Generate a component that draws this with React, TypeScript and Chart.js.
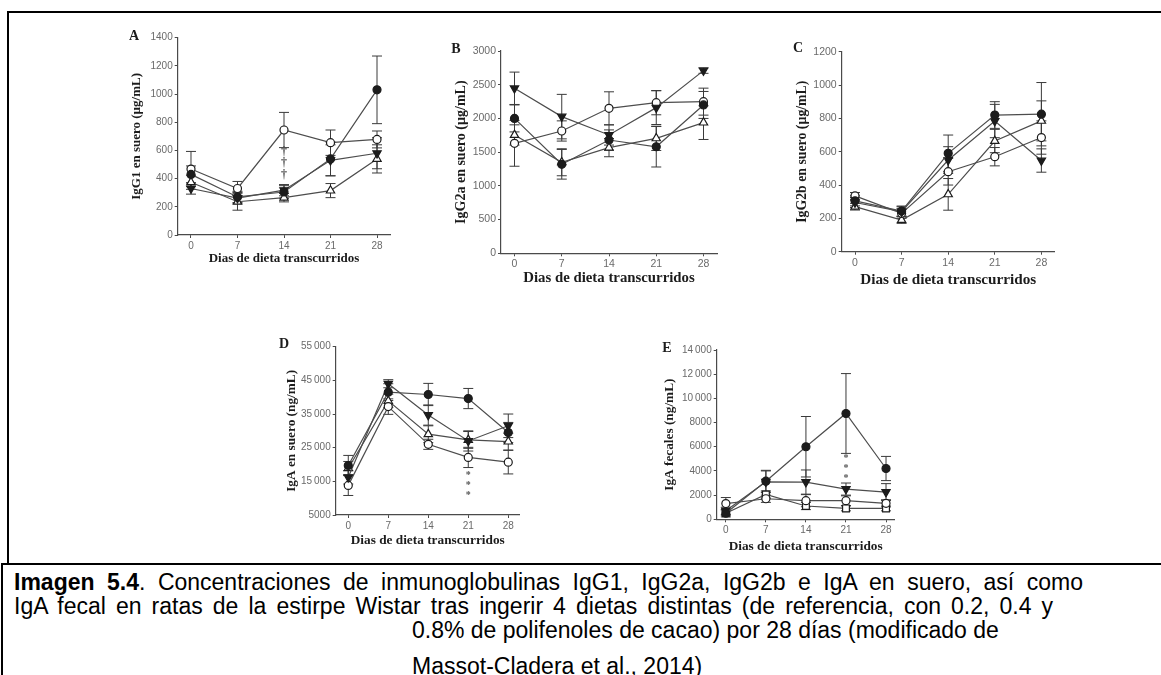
import React, { useEffect, useRef } from "react";
import { Chart, registerables } from "chart.js";

Chart.register(...registerables);

// Sampling days shared by every panel
const days = [0, 7, 14, 21, 28];
const dayLabels = ["0", "7", "14", "21", "28"];

// Diet groups
const groupNames = ["Referencia", "0.2% polifenoles", "0.4% polifenoles", "0.8% polifenoles"];

// A · IgG1 en suero (µg/mL): mean and SEM per group
const igg1Ref = [430, 270, 305, 540, 1030];
const igg1RefErr = [60, 40, 45, 120, 240];
const igg1P02 = [330, 262, 318, 530, 580];
const igg1P02Err = [40, 40, 40, 110, 110];
const igg1P04 = [468, 330, 745, 655, 678];
const igg1P04Err = [125, 50, 125, 90, 60];
const igg1P08 = [374, 236, 265, 315, 540];
const igg1P08Err = [50, 60, 30, 50, 100];
const igg1Ticks = [0, 200, 400, 600, 800, 1000, 1200, 1400];
const igg1TickLabels = ["0", "200", "400", "600", "800", "1000", "1200", "1400"];
const igg1Daggers = [591, 509, 426];

// B · IgG2a en suero (µg/mL)
const igg2aRef = [2000, 1320, 1680, 1580, 2200];
const igg2aRefErr = [200, 220, 150, 300, 200];
const igg2aP02 = [2447, 2027, 1755, 2160, 2709];
const igg2aP02Err = [240, 330, 150, 250, 40];
const igg2aP04 = [1631, 1814, 2150, 2234, 2249];
const igg2aP04Err = [340, 150, 245, 180, 200];
const igg2aP08 = [1755, 1350, 1567, 1705, 1938];
const igg2aP08Err = [150, 200, 135, 180, 250];
const igg2aTicks = [0, 500, 1000, 1500, 2000, 2500, 3000];
const igg2aTickLabels = ["0", "500", "1000", "1500", "2000", "2500", "3000"];

// C · IgG2b en suero (µg/mL)
const igg2bRef = [305, 244, 590, 820, 825];
const igg2bRefErr = [30, 30, 110, 80, 190];
const igg2bP02 = [295, 240, 550, 784, 547];
const igg2bP02Err = [30, 30, 80, 100, 70];
const igg2bP04 = [335, 230, 480, 570, 685];
const igg2bP04Err = [20, 30, 80, 55, 100];
const igg2bP08 = [270, 190, 344, 664, 785];
const igg2bP08Err = [20, 20, 95, 70, 120];
const igg2bTicks = [0, 200, 400, 600, 800, 1000, 1200];
const igg2bTickLabels = ["0", "200", "400", "600", "800", "1000", "1200"];

// D · IgA en suero (ng/mL)
const igaRef = [19700, 41500, 40800, 39600, 29500];
const igaRefErr = [3000, 2500, 3300, 3000, 3000];
const igaP02 = [16200, 44000, 34700, 27000, 31500];
const igaP02Err = [2000, 1200, 3000, 3000, 3500];
const igaP04 = [13800, 37200, 26000, 22100, 20700];
const igaP04Err = [3000, 2300, 1500, 3000, 3500];
const igaP08 = [18900, 38900, 29000, 27300, 26800];
const igaP08Err = [2000, 2000, 2500, 2500, 2500];
const igaTicks = [5000, 15000, 25000, 35000, 45000, 55000];
const igaTickLabels = ["5000", "15\u2009000", "25\u2009000", "35\u2009000", "45\u2009000", "55\u2009000"];
const igaStars = [16700, 13800, 10800];

// E · IgA fecales (ng/mL)
const igaFecRef = [500, 3150, 6000, 8750, 4200];
const igaFecRefErr = [300, 900, 2500, 3300, 1000];
const igaFecP02 = [700, 3100, 3080, 2500, 2250];
const igaFecP02Err = [300, 900, 1000, 500, 700];
const igaFecP04 = [1300, 1700, 1540, 1540, 1320];
const igaFecP04Err = [500, 300, 500, 400, 300];
const igaFecP08 = [500, 2050, 1100, 900, 900];
const igaFecP08Err = [200, 300, 300, 200, 200];
const igaFecTicks = [0, 2000, 4000, 6000, 8000, 10000, 12000, 14000];
const igaFecTickLabels = ["0", "2000", "4000", "6000", "8000", "10\u2009000", "12\u2009000", "14\u2009000"];
const igaFecStars = [5000, 4200, 3400];

const xTitleText = "Dias de dieta transcurridos";

const AXIS = "#4a4a4a";
const TICK = "#6a6a6a";
const INK = "#1c1c1c";
const LINE = "#4d4d4d";
const SANS = "'Liberation Sans', Arial, sans-serif";
const SERIF = "'Liberation Serif', 'Times New Roman', serif";

type Series = {
  label: string;
  values: number[];
  errors: number[];
  style: "circle" | "triangle" | "rect";
  rotation: number;
  filled: boolean;
};

type Marks = { day: number; values: number[]; symbol: string; size: number };

type PanelSpec = {
  letter: string;
  letterPos: [number, number];
  area: [number, number, number, number];
  xRange: [number, number];
  yRange: [number, number];
  yTicks: number[];
  yTickLabels: string[];
  yTitle: string;
  xTitleCenter: number;
  yTitleCenter: number;
  xTitleSize: number;
  yTitleSize: number;
  tickSize: number;
  series: Series[];
  marks?: Marks;
};

function groups(vals: number[][], errs: number[][], fourth: "triangle" | "rect" = "triangle"): Series[] {
  return [
    { label: groupNames[0], values: vals[0], errors: errs[0], style: "circle", rotation: 0, filled: true },
    { label: groupNames[1], values: vals[1], errors: errs[1], style: "triangle", rotation: 180, filled: true },
    { label: groupNames[2], values: vals[2], errors: errs[2], style: "circle", rotation: 0, filled: false },
    { label: groupNames[3], values: vals[3], errors: errs[3], style: fourth, rotation: 0, filled: false },
  ];
}

const panels: PanelSpec[] = [
  {
    letter: "A",
    letterPos: [134, 37],
    area: [177.7, 37.7, 390.3, 235],
    xRange: [-2, 30],
    yRange: [0, 1400],
    yTicks: igg1Ticks,
    yTickLabels: igg1TickLabels,
    yTitle: "IgG1 en suero (µg/mL)",
    xTitleCenter: 259,
    yTitleCenter: 137,
    xTitleSize: 13,
    yTitleSize: 13,
    tickSize: 10,
    series: groups([igg1Ref, igg1P02, igg1P04, igg1P08], [igg1RefErr, igg1P02Err, igg1P04Err, igg1P08Err]),
    marks: { day: 14, values: igg1Daggers, symbol: "†", size: 12 },
  },
  {
    letter: "B",
    letterPos: [456, 50],
    area: [501, 51, 717, 253.3],
    xRange: [-2, 30],
    yRange: [0, 3000],
    yTicks: igg2aTicks,
    yTickLabels: igg2aTickLabels,
    yTitle: "IgG2a en suero (µg/mL)",
    xTitleCenter: 278,
    yTitleCenter: 461.7,
    xTitleSize: 14.8,
    yTitleSize: 14,
    tickSize: 10.5,
    series: groups([igg2aRef, igg2aP02, igg2aP04, igg2aP08], [igg2aRefErr, igg2aP02Err, igg2aP04Err, igg2aP08Err]),
  },
  {
    letter: "C",
    letterPos: [798, 49],
    area: [841.7, 51.7, 1054.7, 251.7],
    xRange: [-2, 30],
    yRange: [0, 1200],
    yTicks: igg2bTicks,
    yTickLabels: igg2bTickLabels,
    yTitle: "IgG2b en suero (µg/mL)",
    xTitleCenter: 280,
    yTitleCenter: 802,
    xTitleSize: 15.2,
    yTitleSize: 13.8,
    tickSize: 10.5,
    series: groups([igg2bRef, igg2bP02, igg2bP04, igg2bP08], [igg2bRefErr, igg2bP02Err, igg2bP04Err, igg2bP08Err]),
  },
  {
    letter: "D",
    letterPos: [284, 345],
    area: [335.7, 346.7, 519.7, 515],
    xRange: [-2.2, 30],
    yRange: [5000, 55000],
    yTicks: igaTicks,
    yTickLabels: igaTickLabels,
    yTitle: "IgA en suero (ng/mL)",
    xTitleCenter: 541,
    yTitleCenter: 291.7,
    xTitleSize: 13.3,
    yTitleSize: 13.3,
    tickSize: 10,
    series: groups([igaRef, igaP02, igaP04, igaP08], [igaRefErr, igaP02Err, igaP04Err, igaP08Err]),
    marks: { day: 21, values: igaStars, symbol: "*", size: 10 },
  },
  {
    letter: "E",
    letterPos: [667, 349],
    area: [716.7, 350, 894.6, 519.3],
    xRange: [-1.6, 29.5],
    yRange: [0, 14000],
    yTicks: igaFecTicks,
    yTickLabels: igaFecTickLabels,
    yTitle: "IgA fecales (ng/mL)",
    xTitleCenter: 546.7,
    yTitleCenter: 670,
    xTitleSize: 13.3,
    yTitleSize: 13.3,
    tickSize: 10,
    series: groups(
      [igaFecRef, igaFecP02, igaFecP04, igaFecP08],
      [igaFecRefErr, igaFecP02Err, igaFecP04Err, igaFecP08Err],
      "rect"
    ),
    marks: { day: 21, values: igaFecStars, symbol: "*", size: 10 },
  },
];

// Vertical SEM bars with caps, drawn beneath the lines and markers
const errorBarsPlugin = {
  id: "errorBars",
  beforeDatasetsDraw(chart: any) {
    const { ctx, scales } = chart;
    const x = scales.x;
    const y = scales.y;
    const cap = 5;
    ctx.save();
    ctx.strokeStyle = "#3a3a3a";
    ctx.lineWidth = 1;
    chart.data.datasets.forEach((ds: any) => {
      ds.data.forEach((p: any, i: number) => {
        const e = ds.errors[i];
        const px = x.getPixelForValue(p.x);
        const top = y.getPixelForValue(p.y + e);
        const bot = y.getPixelForValue(p.y - e);
        ctx.beginPath();
        ctx.moveTo(px, top);
        ctx.lineTo(px, bot);
        ctx.moveTo(px - cap, top);
        ctx.lineTo(px + cap, top);
        ctx.moveTo(px - cap, bot);
        ctx.lineTo(px + cap, bot);
        ctx.stroke();
      });
    });
    ctx.restore();
  },
};

// Significance symbols stacked under a sampling day
const marksPlugin = {
  id: "marks",
  afterDatasetsDraw(chart: any, _args: any, opts: any) {
    if (!opts || !opts.values) return;
    const { ctx, scales } = chart;
    ctx.save();
    ctx.fillStyle = "#555";
    ctx.font = `bold ${opts.size}px ${SERIF}`;
    ctx.textAlign = "center";
    ctx.textBaseline = "middle";
    const px = scales.x.getPixelForValue(opts.day);
    opts.values.forEach((v: number) => {
      ctx.fillText(opts.symbol, px, scales.y.getPixelForValue(v));
    });
    ctx.restore();
  },
};

function Panel({ spec }: { spec: PanelSpec }) {
  const ref = useRef<HTMLCanvasElement>(null);
  const [L, T, R, B] = spec.area;
  const xLH = spec.xTitleSize * 1.2;
  const yLH = spec.yTitleSize * 1.2;
  const yAxisW = L - spec.yTitleCenter + yLH / 2;
  const xAxisH = spec.xTitleCenter - B + xLH / 2;
  const rawLeft = L - yAxisW;
  const rawTop = T - 10;
  const cLeft = Math.floor(rawLeft);
  const cTop = Math.floor(rawTop);
  const cWidth = Math.ceil(R + 8 - cLeft);
  const cHeight = Math.ceil(B + xAxisH + 2 - cTop);
  const pad = {
    left: rawLeft - cLeft,
    top: T - cTop,
    right: cLeft + cWidth - R,
    bottom: cTop + cHeight - (B + xAxisH),
  };

  useEffect(() => {
    if (!ref.current) return;
    const datasets = spec.series.map((s) => ({
      label: s.label,
      data: days.map((d, i) => ({ x: d, y: s.values[i] })),
      errors: s.errors,
      borderColor: LINE,
      borderWidth: 1.2,
      pointStyle: s.style,
      pointRotation: s.rotation,
      pointRadius: s.style === "circle" ? 4 : 4.8,
      pointBorderWidth: 1.2,
      pointBorderColor: INK,
      pointBackgroundColor: s.filled ? INK : "#ffffff",
      tension: 0,
    }));
    const tickFont = { family: SANS, size: spec.tickSize };
    const chart = new Chart(ref.current, {
      type: "line",
      data: { datasets } as any,
      options: {
        responsive: false,
        animation: false,
        layout: { padding: pad },
        plugins: {
          legend: { display: false },
          tooltip: { enabled: false },
          marks: spec.marks || {},
        } as any,
        scales: {
          x: {
            type: "linear",
            min: spec.xRange[0],
            max: spec.xRange[1],
            afterBuildTicks: (s: any) => {
              s.ticks = days.map((v) => ({ value: v }));
            },
            afterFit: (s: any) => {
              s.height = xAxisH;
            },
            grid: { drawOnChartArea: false, drawTicks: true, tickLength: 3, tickColor: AXIS },
            border: { display: true, color: AXIS, width: 1.2 },
            ticks: {
              callback: (_v: any, i: number) => dayLabels[i],
              color: TICK,
              font: tickFont,
              padding: 2,
              maxRotation: 0,
              autoSkip: false,
            },
            title: {
              display: true,
              text: xTitleText,
              color: INK,
              font: { family: SERIF, size: spec.xTitleSize, weight: "bold" },
              padding: 0,
            },
          },
          y: {
            type: "linear",
            min: spec.yRange[0],
            max: spec.yRange[1],
            afterBuildTicks: (s: any) => {
              s.ticks = spec.yTicks.map((v) => ({ value: v }));
            },
            afterFit: (s: any) => {
              s.width = yAxisW;
            },
            grid: { drawOnChartArea: false, drawTicks: true, tickLength: 3, tickColor: AXIS },
            border: { display: true, color: AXIS, width: 1.2 },
            ticks: {
              callback: (_v: any, i: number) => spec.yTickLabels[i],
              color: TICK,
              font: tickFont,
              padding: 2,
              autoSkip: false,
            },
            title: {
              display: true,
              text: spec.yTitle,
              color: INK,
              font: { family: SERIF, size: spec.yTitleSize, weight: "bold" },
              padding: 0,
            },
          },
        },
      } as any,
      plugins: [errorBarsPlugin, marksPlugin],
    });
    return () => chart.destroy();
  }, []);

  return (
    <>
      <canvas
        ref={ref}
        width={cWidth}
        height={cHeight}
        style={{ position: "absolute", left: cLeft, top: cTop, width: cWidth, height: cHeight }}
      />
      <div
        style={{
          position: "absolute",
          left: spec.letterPos[0] - 10,
          top: spec.letterPos[1] - 9,
          width: 20,
          height: 18,
          lineHeight: "18px",
          textAlign: "center",
          font: `bold 14px ${SERIF}`,
          color: INK,
        }}
      >
        {spec.letter}
      </div>
    </>
  );
}

const captionStyle: React.CSSProperties = {
  position: "absolute",
  font: `23px ${SANS}`,
  lineHeight: "24px",
  color: "#000",
  whiteSpace: "nowrap",
};

// Justified caption line stretched to a fixed width
const justified = (width: number): React.CSSProperties => ({
  ...captionStyle,
  whiteSpace: "normal",
  width,
  textAlign: "justify",
  textAlignLast: "justify" as any,
});

export default function App() {
  return (
    <div
      style={{
        position: "fixed",
        left: 0,
        top: 0,
        width: 1161,
        height: 675,
        background: "#fff",
        overflow: "hidden",
      }}
    >
      {/* figure frame */}
      <div style={{ position: "absolute", left: 7, top: 11, width: 1160, height: 2, background: "#000" }} />
      <div style={{ position: "absolute", left: 7, top: 11, width: 2, height: 553, background: "#000" }} />
      <div style={{ position: "absolute", left: 1, top: 563, width: 1166, height: 2, background: "#000" }} />
      <div style={{ position: "absolute", left: 1, top: 563, width: 2, height: 120, background: "#000" }} />

      {panels.map((p) => (
        <Panel key={p.letter} spec={p} />
      ))}

      <div style={{ ...justified(1069), left: 14, top: 570 }}>
        <b>Imagen 5.4</b>. Concentraciones de inmunoglobulinas IgG1, IgG2a, IgG2b e IgA en suero, así como
      </div>
      <div style={{ ...justified(1039), left: 14, top: 594 }}>
        IgA fecal en ratas de la estirpe Wistar tras ingerir 4 dietas distintas (de referencia, con 0.2, 0.4 y
      </div>
      <div style={{ ...captionStyle, left: 412, top: 618 }}>
        0.8% de polifenoles de cacao) por 28 días (modificado de
      </div>
      <div style={{ ...captionStyle, left: 412, top: 654 }}>Massot-Cladera et al., 2014)</div>
    </div>
  );
}
